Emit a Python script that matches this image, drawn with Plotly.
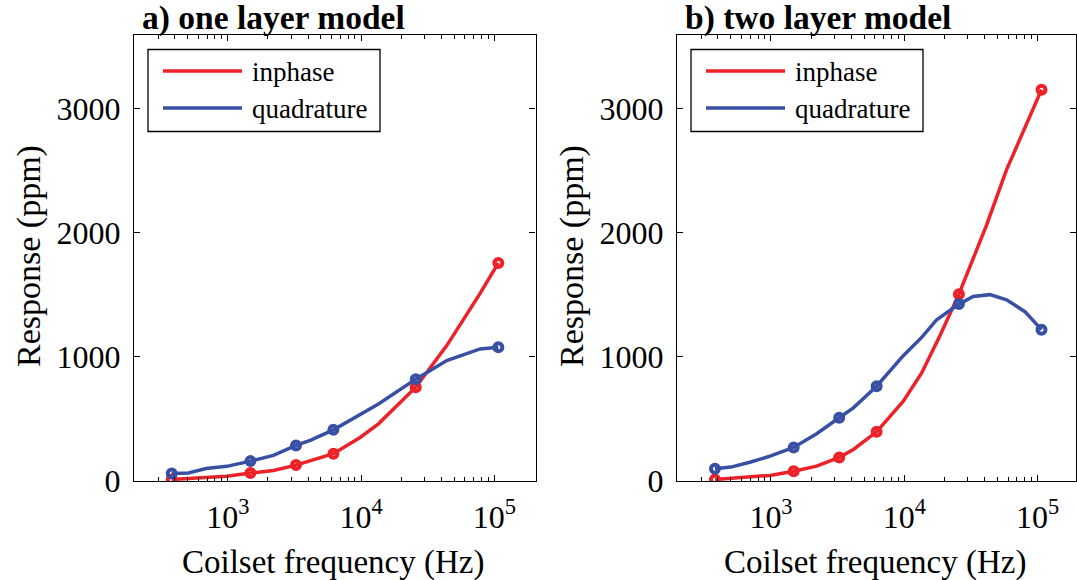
import plotly.graph_objects as go

W, H = 1077, 580

# ---- a) one layer model -------------------------------------------------
freq_a = [380, 507, 688, 983, 1480, 2200, 3250, 4150, 6200, 9830, 13500,
          25700, 43900, 78100, 107000]
inphase_a = [12, 20, 32, 38, 64, 85, 128, 162, 220, 350, 460,
             755, 1090, 1510, 1755]
quad_a = [60, 64, 100, 118, 160, 206, 286, 327, 412, 535, 620,
          820, 970, 1063, 1076]
mark_a = [0, 4, 6, 8, 11, 14]          # indices of the measured frequencies

# ---- b) two layer model -------------------------------------------------
freq_b_in = [380, 585, 983, 1480, 2200, 3250, 4150, 6200, 9830, 13500,
             18500, 25700, 41400, 58500, 107000]
inphase_b = [12, 28, 45, 78, 120, 190, 254, 396, 642, 870,
             1170, 1504, 2060, 2506, 3150]
mark_b_in = [0, 3, 5, 7, 11, 14]

freq_b_q = [380, 501, 704, 983, 1480, 2200, 3250, 4150, 6200, 9830, 13500,
            17500, 25700, 32900, 43900, 58500, 80300, 107000]
quad_b = [99, 112, 153, 200, 270, 380, 509, 589, 763, 1009, 1156,
          1298, 1424, 1486, 1500, 1459, 1363, 1218]
mark_b_q = [0, 4, 6, 8, 12, 17]

titles = ["a) one layer model", "b) two layer model"]
series_names = ["inphase", "quadrature"]
x_tickvals = [1e3, 1e4, 1e5]
x_ticktext = ["10<sup>3</sup>", "10<sup>4</sup>", "10<sup>5</sup>"]
y_tickvals = [0, 1000, 2000, 3000]
x_label = "Coilset frequency (Hz)"
y_label = "Response (ppm)"

RED = "rgb(236,34,40)"
BLUE = "rgb(56,80,164)"
FONT = "Liberation Serif"


def px_x(p):
    return p / W


def px_y(p):
    return 1 - p / H


# panel geometry in pixels: (left, right) ; shared top/bottom
panels = [(134, 535.5), (677, 1076)]
TOP, BOTTOM = 35, 481
x_ranges = [[2.297, 5.308], [2.295, 5.288]]
Y_RANGE = [0, 3590]

minor_vals = [m * 10 ** e for e in (2, 3, 4) for m in range(2, 10)] + [2e5]

fig = go.Figure()


def add_series(freq, vals, idx, color, xa, ya):
    fig.add_trace(go.Scatter(
        x=freq, y=vals, mode="lines", xaxis=xa, yaxis=ya,
        line=dict(color=color, width=3.5), showlegend=False,
        hoverinfo="x+y"))
    fig.add_trace(go.Scatter(
        x=[freq[i] for i in idx], y=[vals[i] for i in idx], mode="markers",
        xaxis=xa, yaxis=ya, showlegend=False,
        marker=dict(symbol="circle-open", size=8, color=color,
                    line=dict(color=color, width=4))))


add_series(freq_a, inphase_a, mark_a, RED, "x", "y")
add_series(freq_a, quad_a, mark_a, BLUE, "x", "y")
add_series(freq_b_in, inphase_b, mark_b_in, RED, "x2", "y2")
add_series(freq_b_q, quad_b, mark_b_q, BLUE, "x2", "y2")

axis_common = dict(showline=True, linecolor="black", linewidth=1.3,
                   mirror="ticks", ticks="inside", tickcolor="black",
                   tickwidth=1, showgrid=False, zeroline=False,
                   automargin=False,
                   tickfont=dict(family=FONT, size=32, color="black"))

layout = dict(template="none", width=W, height=H,
              margin=dict(l=0, r=0, t=0, b=0, autoexpand=False),
              plot_bgcolor="white", paper_bgcolor="white",
              showlegend=False, font=dict(family=FONT, color="black"))

shapes, annotations = [], []
for k, (left, right) in enumerate(panels):
    sfx = "" if k == 0 else str(k + 1)
    layout["xaxis" + sfx] = dict(
        axis_common, type="log", range=x_ranges[k],
        domain=[px_x(left), px_x(right)], anchor="y" + sfx,
        tickvals=x_tickvals, ticktext=x_ticktext, ticklen=6,
        ticklabelstandoff=7,
        minor=dict(tickvals=minor_vals, ticks="inside", ticklen=4,
                   tickcolor="black", tickwidth=1, showgrid=False))
    layout["yaxis" + sfx] = dict(
        axis_common, range=Y_RANGE, domain=[px_y(BOTTOM), px_y(TOP)],
        anchor="x" + sfx, tickvals=y_tickvals, ticklen=6,
        ticklabelstandoff=6)

    # panel title
    annotations.append(dict(
        text="<b>%s</b>" % titles[k], xref="paper", yref="paper",
        x=px_x(left + 6), y=px_y(18), xanchor="left", yanchor="middle",
        showarrow=False, font=dict(family=FONT, size=33.5, color="black")))
    # axis titles
    annotations.append(dict(
        text=x_label, xref="paper", yref="paper",
        x=px_x((left + right) / 2 - 2), y=px_y(562), xanchor="center",
        yanchor="middle", showarrow=False,
        font=dict(family=FONT, size=33, color="black")))
    annotations.append(dict(
        text=y_label, xref="paper", yref="paper", textangle=-90,
        x=px_x(left - 105), y=px_y(256), xanchor="center",
        yanchor="middle", showarrow=False,
        font=dict(family=FONT, size=34, color="black")))

    # legend box
    bx0, bx1 = left + 14, left + 246
    shapes.append(dict(type="rect", xref="paper", yref="paper",
                       x0=px_x(bx0), x1=px_x(bx1), y0=px_y(131.5),
                       y1=px_y(49.5), line=dict(color="black", width=1.3),
                       fillcolor="white", layer="above"))
    for j, (name, col, yy) in enumerate(zip(series_names, [RED, BLUE],
                                            [71, 108])):
        shapes.append(dict(type="line", xref="paper", yref="paper",
                           x0=px_x(left + 29), x1=px_x(left + 108),
                           y0=px_y(yy), y1=px_y(yy),
                           line=dict(color=col, width=3.5), layer="above"))
        annotations.append(dict(
            text=name, xref="paper", yref="paper", x=px_x(left + 116),
            y=px_y(yy + 1), xanchor="left", yanchor="middle",
            showarrow=False, font=dict(family=FONT, size=27, color="black")))

layout["shapes"] = shapes
layout["annotations"] = annotations
fig.update_layout(**layout)

fig.write_html("out.html")
